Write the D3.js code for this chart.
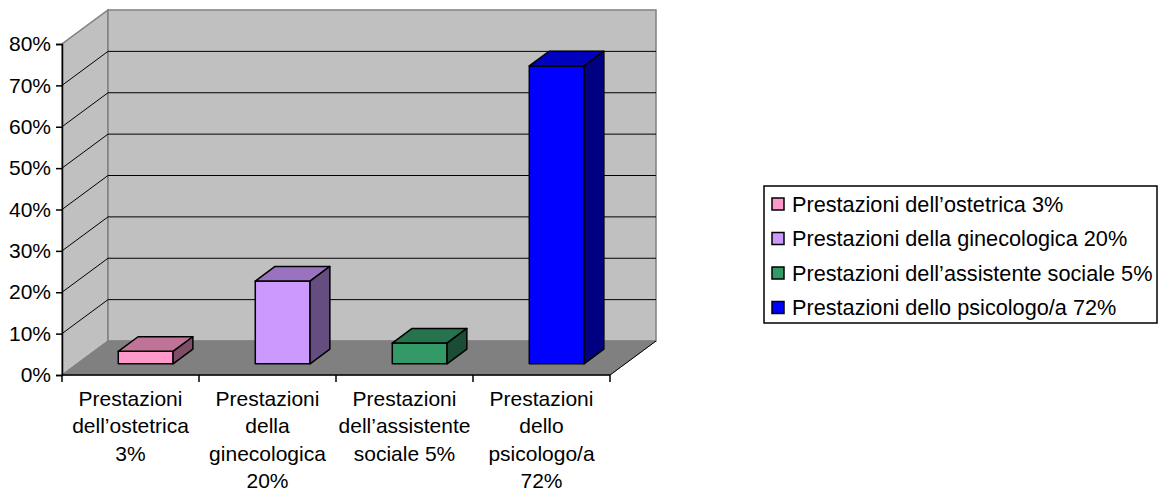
<!DOCTYPE html>
<html>
<head>
<meta charset="utf-8">
<script src="https://cdn.jsdelivr.net/npm/d3@7"></script>
<style>
  body { margin: 0; background: #fff; }
  svg { display: block; font-family: "Liberation Sans", Arial, sans-serif; }
</style>
</head>
<body>
<svg id="chart"></svg>
<script>
// data
const categories = [
  "Prestazioni dell\u2019ostetrica 3%",
  "Prestazioni della ginecologica 20%",
  "Prestazioni dell\u2019assistente sociale 5%",
  "Prestazioni dello psicologo/a 72%"
];
const axisLabels = [
  ["Prestazioni", "dell\u2019ostetrica", "3%"],
  ["Prestazioni", "della", "ginecologica", "20%"],
  ["Prestazioni", "dell\u2019assistente", "sociale 5%"],
  ["Prestazioni", "dello", "psicologo/a", "72%"]
];
const values = [0.03, 0.20, 0.05, 0.72];
const colors = ["#ff99cc", "#cc99ff", "#339966", "#0000ff"];
const yTicks = [0, 0.1, 0.2, 0.3, 0.4, 0.5, 0.6, 0.7, 0.8];

const width = 1163, height = 492;
const depth = { dx: 46, dy: -34 };   // floor / wall depth
const barZ = [0.33, 0.76];           // bar position inside depth

const svg = d3.select("#chart").attr("width", width).attr("height", height);

const x = d3.scaleBand().domain(categories).range([62, 610]).paddingInner(0).paddingOuter(0);
const y = d3.scaleLinear().domain([0, 0.8]).range([375, 44]);

const pt = (px, py, z) => [px + depth.dx * z, py + depth.dy * z];
const poly = pts => "M" + pts.map(p => p.join(",")).join("L") + "Z";

const [x0, x1] = x.range();
const [yb, yt] = y.range();

// left wall
svg.append("path")
  .attr("d", poly([pt(x0, yb, 0), pt(x0, yt, 0), pt(x0, yt, 1), pt(x0, yb, 1)]))
  .attr("fill", "#c0c0c0").attr("stroke", "#808080").attr("stroke-width", 1.5);
// back wall
svg.append("path")
  .attr("d", poly([pt(x0, yb, 1), pt(x0, yt, 1), pt(x1, yt, 1), pt(x1, yb, 1)]))
  .attr("fill", "#c0c0c0").attr("stroke", "#808080").attr("stroke-width", 1.5);
// floor
svg.append("path")
  .attr("d", poly([pt(x0, yb, 0), pt(x1, yb, 0), pt(x1, yb, 1), pt(x0, yb, 1)]))
  .attr("fill", "#808080").attr("stroke", "#808080").attr("stroke-width", 1);

// gridlines
const grid = svg.append("g").attr("stroke", "#000").attr("stroke-width", 1).attr("fill", "none");
yTicks.filter(t => t > 0 && t < 0.8).forEach(t => {
  grid.append("path").attr("d", "M" + pt(x0, y(t), 0).join(",") + "L" + pt(x0, y(t), 1).join(",") + "L" + pt(x1, y(t), 1).join(","));
});

// bars
const bw = x.bandwidth() * 0.4;
const bars = svg.append("g").attr("stroke", "#000").attr("stroke-width", 1.5).attr("stroke-linejoin", "round");
categories.forEach((c, i) => {
  const bx0 = x(c) + (x.bandwidth() - bw) / 2, bx1 = bx0 + bw;
  const v = values[i];
  const col = d3.rgb(colors[i]);
  const shade = k => d3.rgb(col.r * k, col.g * k, col.b * k).formatHex();
  const [za, zb] = barZ;
  // front
  bars.append("path").attr("fill", colors[i])
    .attr("d", poly([pt(bx0, y(0), za), pt(bx1, y(0), za), pt(bx1, y(v), za), pt(bx0, y(v), za)]));
  // top
  bars.append("path").attr("fill", shade(0.75))
    .attr("d", poly([pt(bx0, y(v), za), pt(bx1, y(v), za), pt(bx1, y(v), zb), pt(bx0, y(v), zb)]));
  // side
  bars.append("path").attr("fill", shade(0.5))
    .attr("d", poly([pt(bx1, y(0), za), pt(bx1, y(0), zb), pt(bx1, y(v), zb), pt(bx1, y(v), za)]));
});

// floor right edge
svg.append("path").attr("d", "M" + pt(x1, yb, 0).join(",") + "L" + pt(x1, yb, 1).join(","))
  .attr("stroke", "#000").attr("stroke-width", 1);

// y axis
const yAxis = svg.append("g").attr("transform", `translate(${x0},0)`)
  .call(d3.axisLeft(y).tickValues(yTicks).tickFormat(d3.format(".0%")).tickSize(6).tickPadding(5));
yAxis.select(".domain").attr("stroke", "#000").attr("stroke-width", 1.5);
yAxis.selectAll(".tick line").attr("stroke", "#000").attr("stroke-width", 1.5);
yAxis.selectAll(".tick text").attr("font-size", 21).attr("fill", "#000").attr("font-family", "Liberation Sans, Arial, sans-serif");

// x axis
const xAxis = svg.append("g").attr("transform", `translate(0,${yb})`);
xAxis.append("line").attr("x1", x0).attr("x2", x1).attr("stroke", "#000").attr("stroke-width", 1.5);
[...categories.map(c => x(c)), x1].forEach(px => {
  xAxis.append("line").attr("x1", px).attr("x2", px).attr("y1", 0).attr("y2", 7)
    .attr("stroke", "#000").attr("stroke-width", 1.5);
});
categories.forEach((c, i) => {
  const t = xAxis.append("text").attr("text-anchor", "middle").attr("font-size", 21)
    .attr("x", x(c) + x.bandwidth() / 2).attr("y", 31);
  axisLabels[i].forEach((line, j) => {
    t.append("tspan").attr("x", x(c) + x.bandwidth() / 2).attr("y", 31 + j * 27.3).text(line);
  });
});

// legend
const legend = svg.append("g").attr("transform", "translate(764,186)");
legend.append("rect").attr("width", 393).attr("height", 137)
  .attr("fill", "#fff").attr("stroke", "#000").attr("stroke-width", 1.5);
categories.forEach((c, i) => {
  const row = legend.append("g").attr("transform", `translate(0,${18 + i * 34.5})`);
  row.append("rect").attr("x", 8).attr("y", -6).attr("width", 12).attr("height", 12)
    .attr("fill", colors[i]).attr("stroke", "#000").attr("stroke-width", 1.5);
  row.append("text").attr("x", 28).attr("y", 0).attr("dy", "0.35em").attr("font-size", 21.7).text(c);
});
</script>
</body>
</html>
